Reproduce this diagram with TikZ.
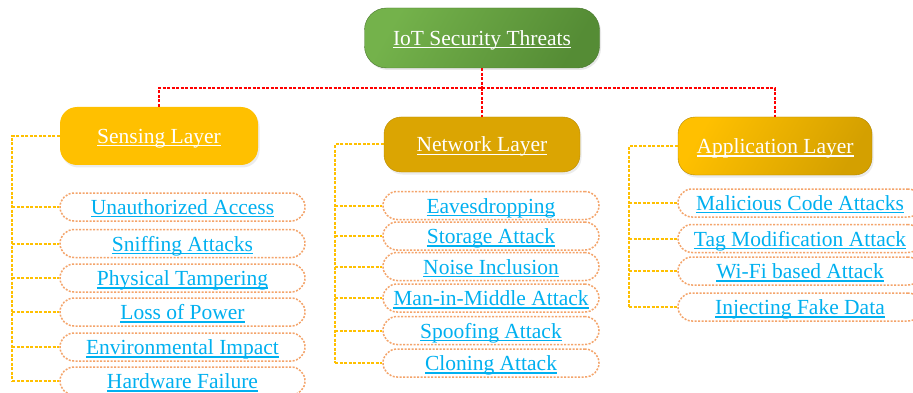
\documentclass[tikz,border=0pt]{standalone}
\usepackage{fontspec}
\setmainfont{Liberation Serif}
\usetikzlibrary{shadows}
\definecolor{rootL}{HTML}{74B24B}
\definecolor{rootR}{HTML}{558C35}
\definecolor{sensefill}{HTML}{FFC000}
\definecolor{netfill}{HTML}{DBA502}
\definecolor{appL}{HTML}{FFC000}
\definecolor{appR}{HTML}{D4A000}
\definecolor{linkblue}{HTML}{00B0F0}
\definecolor{leafedge}{HTML}{F4A46A}
\definecolor{busyellow}{HTML}{FFC000}
\definecolor{busred}{HTML}{FF0000}
% underline that runs through descenders, as in office-style hyperlinks
\newcommand\ulink[1]{\setbox0\hbox{#1}\rlap{\rule[-3pt]{\wd0}{1.3pt}}\box0}
\tikzset{
  x=1pt, y=-1pt,
  txt/.style={font=\fontsize{21.5}{24}\selectfont, text height=18pt, text depth=3pt},
  root/.style={txt, rounded corners=22pt, inner sep=0pt, minimum width=235pt, minimum height=60pt,
    left color=rootL, right color=rootR, shading angle=60, draw=rootR!85!black, line width=0.4pt,
    text=white, drop shadow={opacity=0.18, shadow xshift=1.5pt, shadow yshift=-2pt}},
  layer/.style={txt, rounded corners=17pt, inner sep=0pt, minimum width=196pt, minimum height=57pt,
    text=white, drop shadow={opacity=0.15, shadow xshift=1.5pt, shadow yshift=-2.5pt}},
  leaf/.style={txt, rounded corners=14pt, inner sep=0pt, minimum height=28pt,
    draw=leafedge, line width=1.5pt, dash pattern=on 2pt off 1.5pt, fill=white, text=linkblue},
  rbus/.style={draw=busred, line width=2pt, dash pattern=on 3pt off 1.5pt},
  ybus/.style={draw=busyellow, line width=2pt, dash pattern=on 3pt off 1.5pt},
}
\begin{document}
\begin{tikzpicture}
\clip (0,0) rectangle (913,393);
\fill[white] (0,0) rectangle (913,393);

% top of the tree
\node[root] (root) at (482,38) {\ulink{IoT Security Threats}};

% the three layers
\node[layer, fill=sensefill, minimum width=198pt, minimum height=58pt] (sens) at (159,136) {\ulink{Sensing Layer}};
\node[layer, fill=netfill, draw=netfill!85!black, line width=0.4pt, minimum height=55pt] (net) at (482,144.5) {\ulink{Network Layer}};
\node[layer, left color=appL, right color=appR, shading angle=60, draw=appR!85!black, line width=0.4pt,
  minimum width=194pt, minimum height=58pt] (app) at (775,146) {\ulink{Application Layer}};

% red links from the root to the layers
\coordinate (hub) at (482,88);
\draw[rbus] (root.south) -- (hub);
\draw[rbus] (sens.north) |- (hub) -| (app.north);
\draw[rbus] (hub) -- (net.north);

% sensing layer threats
\begin{scope}[every node/.append style={leaf, minimum width=245pt}]
\node (s1) at (182.5,207) {\ulink{Unauthorized Access}};
\node (s2) at (182.5,243.5) {\ulink{Sniffing Attacks}};
\node (s3) at (182.5,278) {\ulink{Physical Tampering}};
\node (s4) at (182.5,312) {\ulink{Loss of Power}};
\node (s5) at (182.5,347) {\ulink{Environmental Impact}};
\node (s6) at (182.5,381) {\ulink{Hardware Failure}};
\end{scope}

% network layer threats
\begin{scope}[every node/.append style={leaf, minimum width=216pt}]
\node (n1) at (491,205.5) {\ulink{Eavesdropping}};
\node (n2) at (491,236) {\ulink{Storage Attack}};
\node (n3) at (491,266.5) {\ulink{Noise Inclusion}};
\node (n4) at (491,298) {\ulink{Man-in-Middle Attack}};
\node (n5) at (491,330.5) {\ulink{Spoofing Attack}};
\node (n6) at (491,363) {\ulink{Cloning Attack}};
\end{scope}

% application layer threats
\begin{scope}[every node/.append style={leaf, minimum width=244pt}]
\node (a1) at (800,203) {\ulink{Malicious Code Attacks}};
\node (a2) at (800,238.5) {\ulink{Tag Modification Attack}};
\node (a3) at (800,271) {\ulink{Wi-Fi based Attack}};
\node (a4) at (800,307) {\ulink{Injecting Fake Data}};
\end{scope}

% yellow brackets joining each layer to its threats
\coordinate (sx) at (12,0);
\coordinate (nx) at (335,0);
\coordinate (ax) at (629,0);

\draw[ybus] (sens.west) -- (sens.west -| sx) -- (s6.west -| sx);
\foreach \k in {1,...,6} \draw[ybus] (s\k.west -| sx) -- (s\k.west);

\draw[ybus] (net.west) -- (net.west -| nx) -- (n6.west -| nx);
\foreach \k in {1,...,6} \draw[ybus] (n\k.west -| nx) -- (n\k.west);

\draw[ybus] (app.west) -- (app.west -| ax) -- (a4.west -| ax);
\foreach \k in {1,...,4} \draw[ybus] (a\k.west -| ax) -- (a\k.west);
\end{tikzpicture}
\end{document}
